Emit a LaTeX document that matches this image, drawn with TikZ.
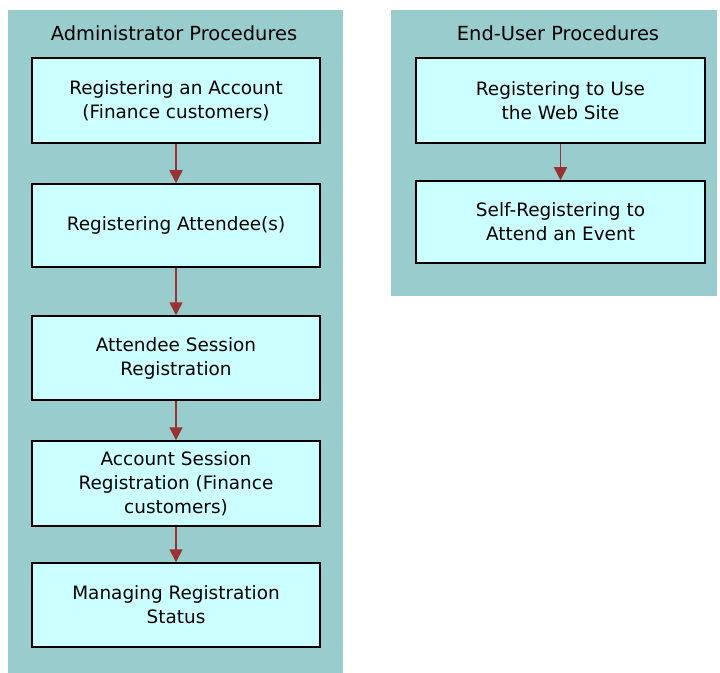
\documentclass[tikz,border=0pt]{standalone}
\usepackage{fontspec}
\setmainfont{DejaVu Sans}
\usetikzlibrary{arrows.meta}
\definecolor{panelbg}{HTML}{99CCCC}
\definecolor{boxbg}{HTML}{CCFFFF}
\definecolor{flowred}{HTML}{993333}
\tikzset{
  procbox/.style={draw=black, line width=1.5bp, fill=boxbg, align=center,
    font=\fontsize{18.5}{24}\selectfont, inner sep=0pt},
  paneltitle/.style={font=\fontsize{19.5}{22}\selectfont, inner sep=0pt},
  flow/.style={-{Triangle[width=13bp,length=13bp]}, draw=flowred, fill=flowred, line width=1.6bp}
}
\begin{document}
\begin{tikzpicture}[x=1bp, y=-1bp]
        \useasboundingbox (0,0) rectangle (720,673);
        % panels
        \fill[panelbg] (8,10) rectangle (343,673);
        \fill[panelbg] (391,10) rectangle (717,296);
        \node[paneltitle] (admtitle) at (174,33) {Administrator Procedures};
        \node[paneltitle] (usrtitle) at (558,33) {End-User Procedures};

        % administrator boxes
        \node[procbox, minimum width=288bp, minimum height=85bp] (regacct) at (176,100.5) {Registering an Account\\(Finance customers)};
        \node[procbox, minimum width=288bp, minimum height=83bp] (regatt) at (176,225.5) {Registering Attendee(s)};
        \node[procbox, minimum width=288bp, minimum height=84bp] (attsess) at (176,358) {Attendee Session\\Registration};
        \node[procbox, minimum width=288bp, minimum height=85bp] (acctsess) at (176,483.5) {Account Session\\Registration (Finance\\customers)};
        \node[procbox, minimum width=288bp, minimum height=84bp] (mgstatus) at (176,605) {Managing Registration\\Status};

        % end-user boxes
        \node[procbox, minimum width=289bp, minimum height=85bp] (regweb) at (560.5,100.5) {Registering to Use\\the Web Site};
        \node[procbox, minimum width=289bp, minimum height=82bp] (selfreg) at (560.5,222) {Self-Registering to\\Attend an Event};

        % arrows
        \draw[flow] (regacct) -- (regatt);
        \draw[flow] (regatt) -- (attsess);
        \draw[flow] (attsess) -- (acctsess);
        \draw[flow] (acctsess) -- (mgstatus);
        \draw[flow] (regweb) -- (selfreg);
    \end{tikzpicture}
\end{document}
